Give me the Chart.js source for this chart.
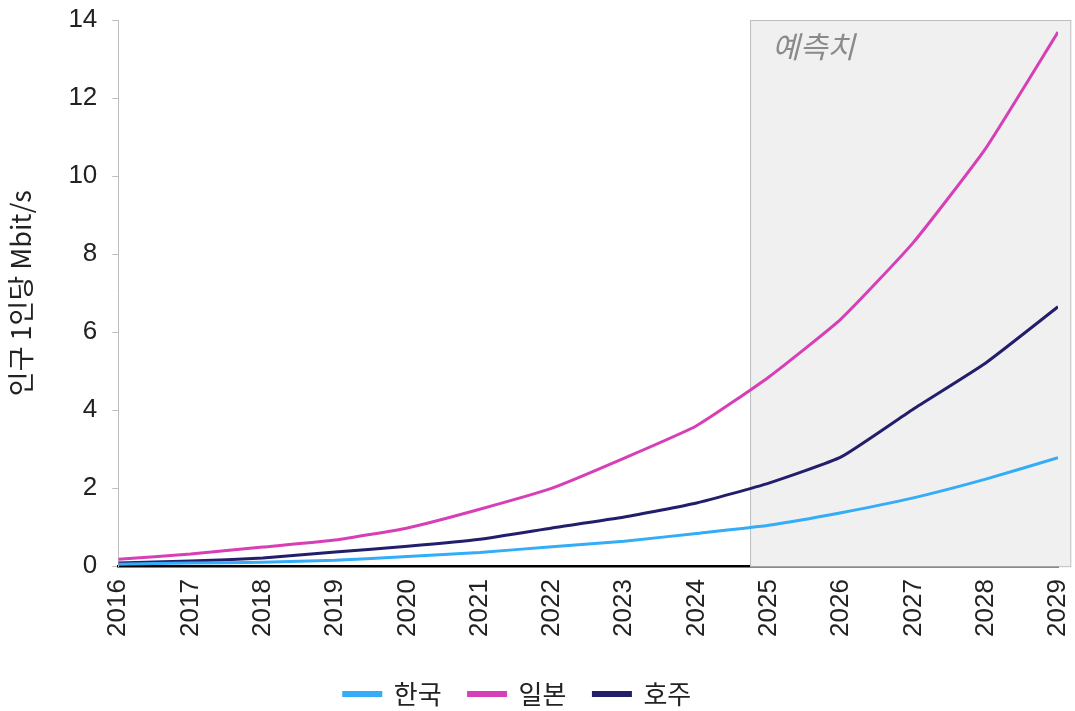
<!DOCTYPE html>
<html>
<head>
<meta charset="utf-8">
<script src="https://cdn.jsdelivr.net/npm/chart.js@4/dist/chart.umd.min.js"></script>
<style>
  html, body { margin: 0; padding: 0; background: #fff; }
  #wrap { width: 1075px; height: 711px; }
</style>
</head>
<body>
<div id="wrap"><canvas id="chart"></canvas></div>
<script>
//------------------------------ DATA ------------------------------
const years = [2016, 2017, 2018, 2019, 2020, 2021, 2022, 2023, 2024, 2025, 2026, 2027, 2028, 2029]
const korea = [0.05, 0.08, 0.10, 0.15, 0.25, 0.35, 0.50, 0.64, 0.84, 1.05, 1.37, 1.75, 2.23, 2.78]
const japan = [0.18, 0.31, 0.49, 0.67, 0.98, 1.46, 2.00, 2.77, 3.60, 4.85, 6.34, 8.30, 10.71, 13.69]
const australia = [0.08, 0.13, 0.21, 0.36, 0.51, 0.69, 0.98, 1.26, 1.62, 2.13, 2.80, 4.03, 5.21, 6.65]
const seriesNames = ['한국', '일본', '호주']
const yTicks = [0, 2, 4, 6, 8, 10, 12, 14]
const forecastFrom = 2024.74
const forecastTo = 2029.17
const forecastLabel = '예측치'

const FONT = "'Liberation Sans', 'Noto Sans CJK KR', sans-serif"
const KFONT = "'Noto Sans CJK KR', 'Liberation Sans', sans-serif"

// shaded forecast box, drawn under the lines
const forecastBox = {
    id: 'forecastBox',
    beforeDatasetsDraw(chart){
        const {ctx, scales: {x, y}} = chart
        let left = x.getPixelForValue(forecastFrom)
        let right = x.getPixelForValue(forecastTo)
        let top = y.getPixelForValue(yTicks[yTicks.length - 1])
        let bottom = y.getPixelForValue(0)
        ctx.save()
        ctx.fillStyle = '#f0f0f0'
        ctx.fillRect(left, top, right - left, bottom - top)
        ctx.strokeStyle = '#bdbdbd'
        ctx.lineWidth = 1
        ctx.strokeRect(left + 0.5, top + 0.5, right - left, bottom - top)
        ctx.fillStyle = '#8a8a8a'
        ctx.font = "italic 30px " + KFONT
        ctx.textBaseline = 'middle'
        ctx.fillText(forecastLabel, left + 22, top + 27)
        ctx.restore()
    }
}

// legend sits a bit left of the canvas centre
const legendShift = {
    id: 'legendShift',
    afterLayout(chart){
        chart.legend.left -= 20
        chart.legend.right -= 20
    }
}

function line(label, data, color){
    return {
        label: label,
        data: data,
        borderColor: color,
        backgroundColor: color,
        borderWidth: 3,
        pointRadius: 0,
        tension: 0.15,
        fill: false
    }
}

new Chart(document.getElementById('chart'), {
    type: 'line',
    data: {
        labels: years,
        datasets: [
            line(seriesNames[0], korea, '#33adf7'),
            line(seriesNames[1], japan, '#d63fb6'),
            line(seriesNames[2], australia, '#221e6c')
        ]
    },
    options: {
        responsive: true,
        maintainAspectRatio: false,
        animation: false,
        layout: { padding: { top: 0, left: 0, right: 0, bottom: -6 } },
        plugins: {
            legend: {
                position: 'bottom',
                labels: {
                    boxWidth: 37,
                    boxHeight: 3,
                    padding: 27,
                    color: '#222',
                    font: { family: KFONT, size: 26 }
                }
            },
            tooltip: { enabled: false }
        },
        scales: {
            x: {
                type: 'linear',
                min: years[0],
                max: years[years.length - 1],
                afterBuildTicks: (axis) => { axis.ticks = years.map(v => ({value: v})) },
                // keep the plot edge close to the last year label, leave room above the legend
                afterFit: (axis) => { axis.paddingRight = 17; axis.paddingLeft = 0; axis.height += 12 },
                grid: { display: false },
                border: { color: '#000', width: 2.5 },
                ticks: {
                    minRotation: 90,
                    maxRotation: 90,
                    color: '#222',
                    padding: 5,
                    font: { family: FONT, size: 26 },
                    callback: (v) => String(v)
                }
            },
            y: {
                min: 0,
                max: 14,
                afterBuildTicks: (axis) => { axis.ticks = yTicks.map(v => ({value: v})) },
                afterFit: (axis) => { axis.paddingTop = 20 },
                grid: { drawOnChartArea: false, color: '#bdbdbd', tickLength: 6 },
                border: { color: '#bdbdbd', width: 1 },
                ticks: {
                    color: '#222',
                    padding: 15,
                    font: { family: FONT, size: 26 }
                },
                title: {
                    display: true,
                    text: '인구 1인당 Mbit/s',
                    color: '#222',
                    font: { family: KFONT, size: 27 },
                    padding: { top: 5, bottom: 16 }
                }
            }
        }
    },
    plugins: [forecastBox, legendShift]
})
</script>
</body>
</html>
